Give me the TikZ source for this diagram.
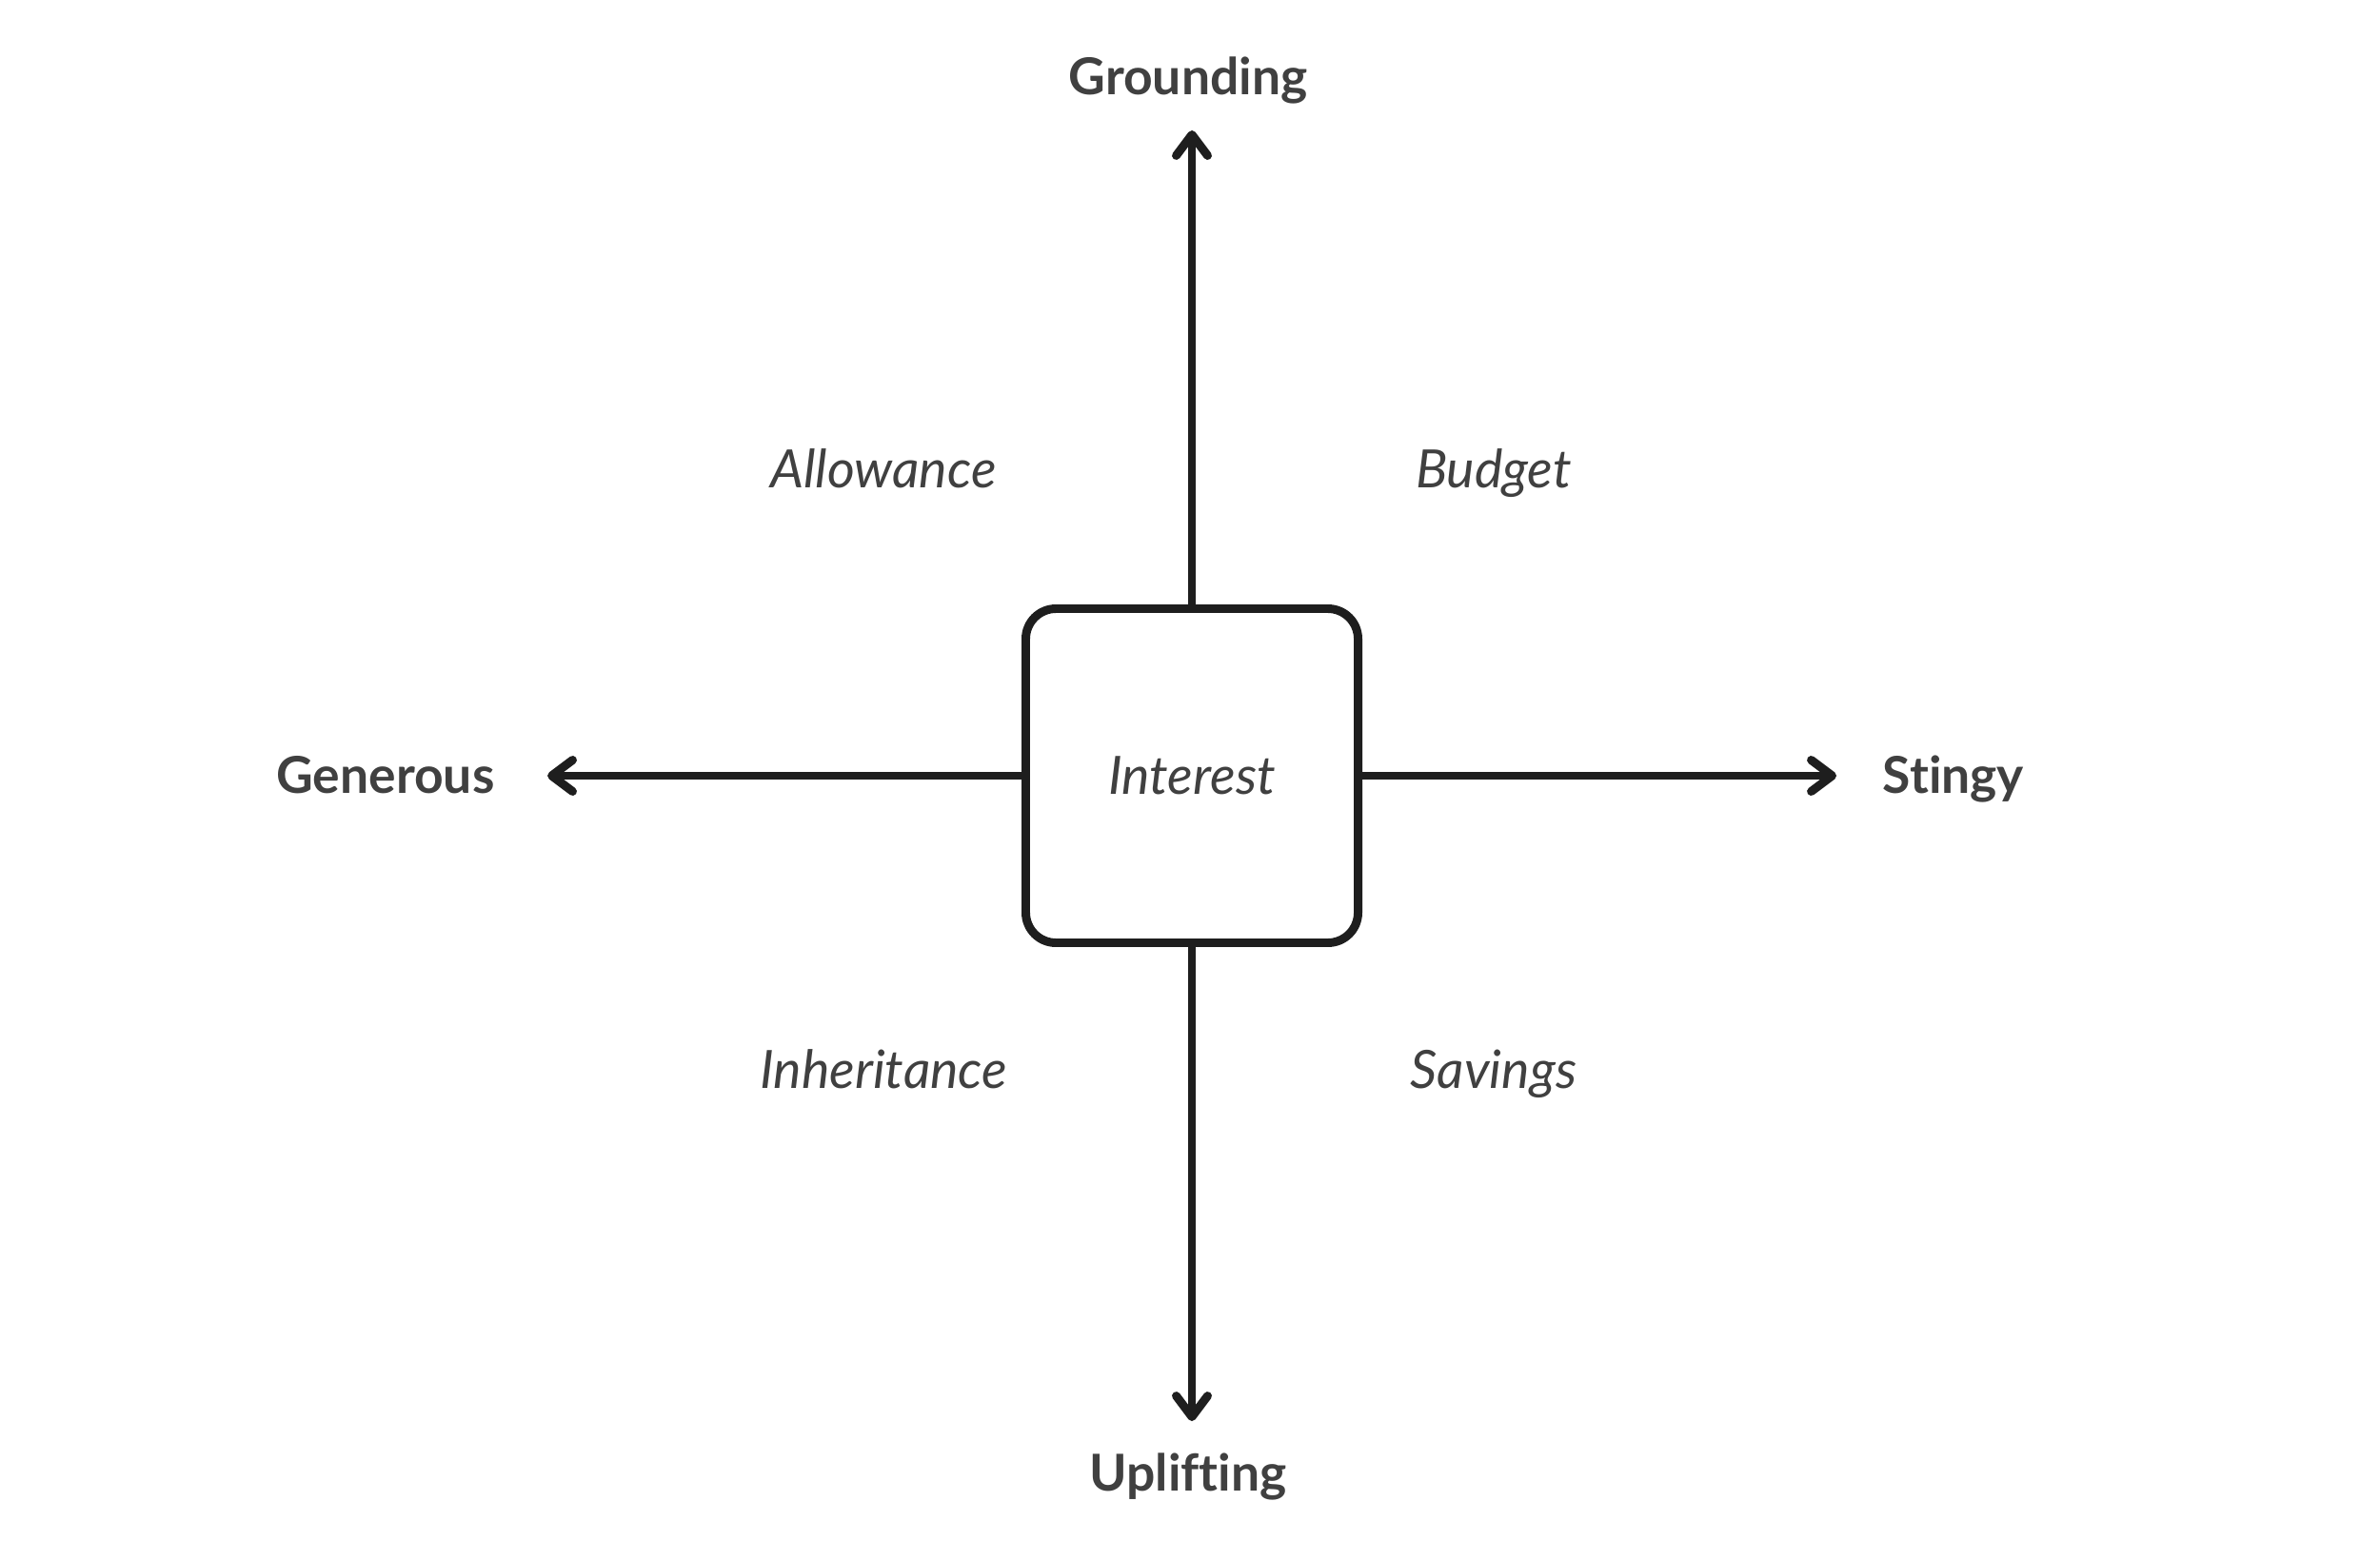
\documentclass[tikz,border=0pt]{standalone}
\usepackage{fontspec}
\setmainfont{Lato}[Ligatures={NoCommon,NoRare}]
\usepackage{xcolor}
\definecolor{ink}{RGB}{30,30,30}
\definecolor{txt}{RGB}{64,64,64}
\usetikzlibrary{positioning,arrows.meta}

\begin{document}
\begin{tikzpicture}[
  font=\fontsize{15.2}{18}\selectfont,
  core/.style={draw=ink, line width=2.55pt, rounded corners=9pt, minimum width=3.49cm, minimum height=3.51cm, text=txt, font=\fontsize{15.8}{18}\selectfont\itshape},
  axislab/.style={text=txt, font=\fontsize{15.2}{18}\selectfont\bfseries, inner sep=0pt, text height=1.5ex, text depth=0.4ex},
  quad/.style={text=txt, font=\fontsize{15.8}{18}\selectfont\itshape, inner sep=0pt, text height=1.5ex, text depth=0.4ex},
  axarr/.style={-{Straight Barb[length=2.2mm, width=3.3mm, line join=round, line cap=round]}, line width=2.55pt, draw=ink}]
\useasboundingbox (0,0) rectangle (25,16.18);
\node[core] (int) at (12.52,8.03) {Interest};
% axis ends
\coordinate (tipN) at (12.52,14.81);
\coordinate (tipS) at (12.52,1.25);
\coordinate (tipW) at (5.75,8.03);
\coordinate (tipE) at (19.29,8.03);
% axis labels
\node[axislab] (ground) at (12.48,15.28) {Grounding};
\node[axislab] (uplift) at (12.48,0.61) {Uplifting};
\node[axislab] (gen) at (4.05,7.94) {Generous};
\node[axislab] (stingy) at (20.52,7.94) {Stingy};
% quadrants
\node[quad] (allow) at (9.28,11.15) {Allowance};
\node[quad] (budget) at (15.69,11.15) {Budget};
\node[quad] (inher) at (9.28,4.84) {Inheritance};
\node[quad] (save) at (15.69,4.84) {Savings};
\draw[axarr] (int.north) -- (tipN);
\draw[axarr] (int.south) -- (tipS);
\draw[axarr] (int.west) -- (tipW);
\draw[axarr] (int.east) -- (tipE);
\end{tikzpicture}
\end{document}
